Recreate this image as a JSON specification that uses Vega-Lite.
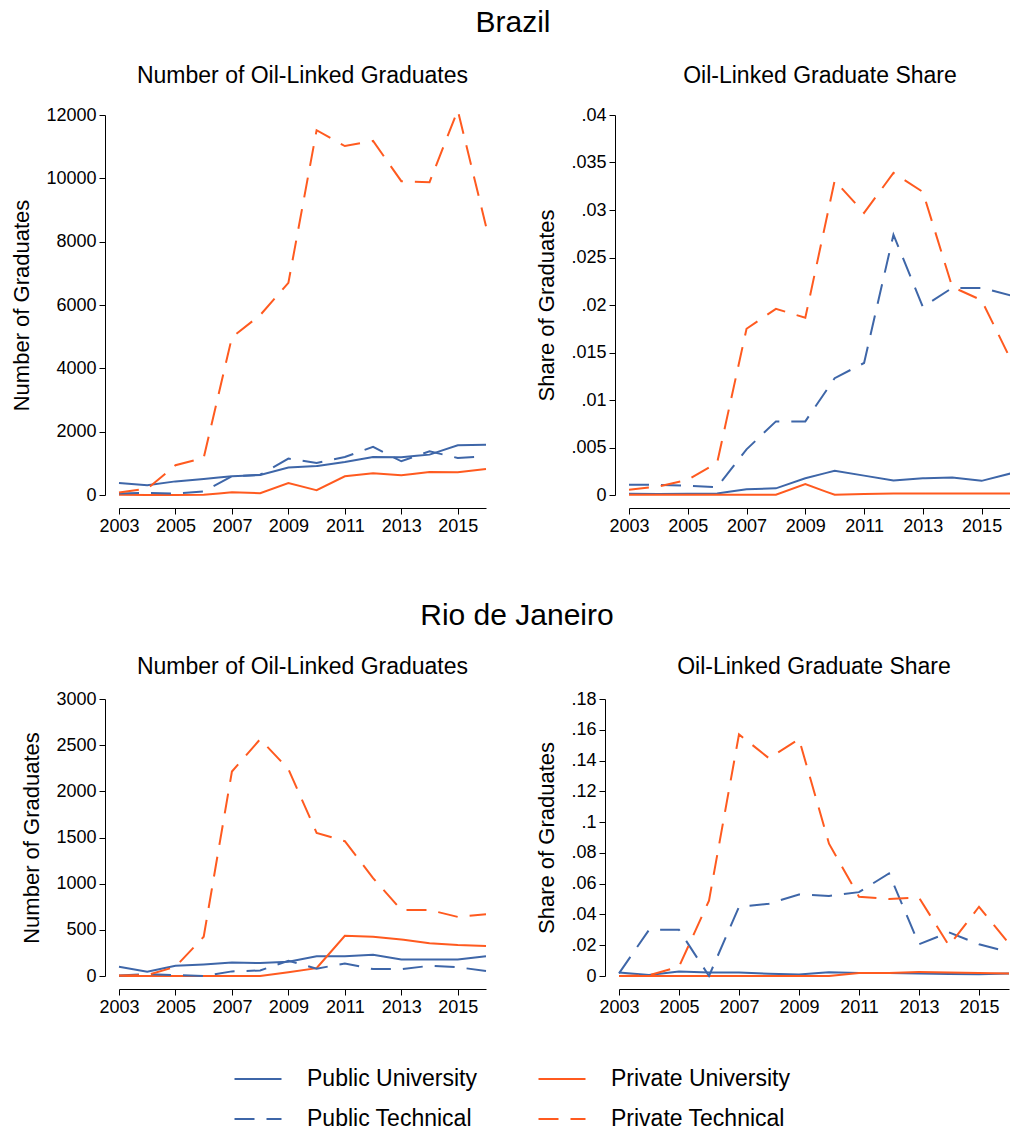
{
  "$schema": "https://vega.github.io/schema/vega-lite/v6.json",
  "padding": {"left": 10, "top": 8, "right": 0, "bottom": 0},
  "background": "white",
  "datasets": {
    "bc": [
      {"year": 2003, "Public University": 380, "Public Technical": 50, "Private University": 10, "Private Technical": 80},
      {"year": 2004, "Public University": 305, "Public Technical": 65, "Private University": 0, "Private Technical": 200},
      {"year": 2005, "Public University": 430, "Public Technical": 45, "Private University": 0, "Private Technical": 940},
      {"year": 2006, "Public University": 505, "Public Technical": 115, "Private University": 10, "Private Technical": 1170},
      {"year": 2007, "Public University": 590, "Public Technical": 590, "Private University": 85, "Private Technical": 4980},
      {"year": 2008, "Public University": 630, "Public Technical": 640, "Private University": 55, "Private Technical": 5680},
      {"year": 2009, "Public University": 865, "Public Technical": 1150, "Private University": 380, "Private Technical": 6700},
      {"year": 2010, "Public University": 915, "Public Technical": 1010, "Private University": 150, "Private Technical": 11520},
      {"year": 2011, "Public University": 1045, "Public Technical": 1200, "Private University": 590, "Private Technical": 11020},
      {"year": 2012, "Public University": 1200, "Public Technical": 1520, "Private University": 685, "Private Technical": 11180},
      {"year": 2013, "Public University": 1190, "Public Technical": 1065, "Private University": 620, "Private Technical": 9910},
      {"year": 2014, "Public University": 1275, "Public Technical": 1380, "Private University": 725, "Private Technical": 9880},
      {"year": 2015, "Public University": 1570, "Public Technical": 1170, "Private University": 715, "Private Technical": 12150},
      {"year": 2016, "Public University": 1590, "Public Technical": 1220, "Private University": 820, "Private Technical": 8490}
    ],
    "bs": [
      {"year": 2003, "Public University": 0.00014, "Public Technical": 0.00107, "Private University": 0.00002, "Private Technical": 0.00055},
      {"year": 2004, "Public University": 0.0001, "Public Technical": 0.00107, "Private University": 0.00002, "Private Technical": 0.0009},
      {"year": 2005, "Public University": 0.00014, "Public Technical": 0.00097, "Private University": 0.00002, "Private Technical": 0.0016},
      {"year": 2006, "Public University": 0.00017, "Public Technical": 0.00083, "Private University": 0.00002, "Private Technical": 0.0034},
      {"year": 2007, "Public University": 0.0006, "Public Technical": 0.0048, "Private University": 0.00002, "Private Technical": 0.0175},
      {"year": 2008, "Public University": 0.0007, "Public Technical": 0.00775, "Private University": 0.00002, "Private Technical": 0.0196},
      {"year": 2009, "Public University": 0.00176, "Public Technical": 0.00775, "Private University": 0.00114, "Private Technical": 0.01865},
      {"year": 2010, "Public University": 0.00256, "Public Technical": 0.0123, "Private University": 0.00002, "Private Technical": 0.0331},
      {"year": 2011, "Public University": 0.00204, "Public Technical": 0.0139, "Private University": 0.0001, "Private Technical": 0.0297},
      {"year": 2012, "Public University": 0.00152, "Public Technical": 0.0274, "Private University": 0.00017, "Private Technical": 0.0339},
      {"year": 2013, "Public University": 0.00176, "Public Technical": 0.0198, "Private University": 0.00017, "Private Technical": 0.0319},
      {"year": 2014, "Public University": 0.00183, "Public Technical": 0.0218, "Private University": 0.00015, "Private Technical": 0.0219},
      {"year": 2015, "Public University": 0.00149, "Public Technical": 0.0218, "Private University": 0.00015, "Private Technical": 0.0205},
      {"year": 2016, "Public University": 0.00228, "Public Technical": 0.021, "Private University": 0.00015, "Private Technical": 0.0142}
    ],
    "rc": [
      {"year": 2003, "Public University": 100, "Public Technical": 5, "Private University": 0, "Private Technical": 5},
      {"year": 2004, "Public University": 47, "Public Technical": 20, "Private University": 0, "Private Technical": 10},
      {"year": 2005, "Public University": 110, "Public Technical": 10, "Private University": 0, "Private Technical": 100},
      {"year": 2006, "Public University": 125, "Public Technical": 0, "Private University": 0, "Private Technical": 425},
      {"year": 2007, "Public University": 145, "Public Technical": 50, "Private University": 0, "Private Technical": 2215},
      {"year": 2008, "Public University": 140, "Public Technical": 60, "Private University": 0, "Private Technical": 2565},
      {"year": 2009, "Public University": 155, "Public Technical": 165, "Private University": 40, "Private Technical": 2240},
      {"year": 2010, "Public University": 215, "Public Technical": 80, "Private University": 85, "Private Technical": 1550},
      {"year": 2011, "Public University": 215, "Public Technical": 135, "Private University": 435, "Private Technical": 1460},
      {"year": 2012, "Public University": 230, "Public Technical": 75, "Private University": 425, "Private Technical": 1060},
      {"year": 2013, "Public University": 180, "Public Technical": 75, "Private University": 395, "Private Technical": 715},
      {"year": 2014, "Public University": 180, "Public Technical": 110, "Private University": 355, "Private Technical": 715},
      {"year": 2015, "Public University": 180, "Public Technical": 95, "Private University": 335, "Private Technical": 640},
      {"year": 2016, "Public University": 215, "Public Technical": 55, "Private University": 325, "Private Technical": 670}
    ],
    "rs": [
      {"year": 2003, "Public University": 0.0022, "Public Technical": 0.0017, "Private University": 0, "Private Technical": 0},
      {"year": 2004, "Public University": 0.0007, "Public Technical": 0.030, "Private University": 0, "Private Technical": 0.0005},
      {"year": 2005, "Public University": 0.003, "Public Technical": 0.030, "Private University": 0, "Private Technical": 0.006},
      {"year": 2006, "Public University": 0.0022, "Public Technical": 0.0, "Private University": 0, "Private Technical": 0.049},
      {"year": 2007, "Public University": 0.0022, "Public Technical": 0.045, "Private University": 0, "Private Technical": 0.157},
      {"year": 2008, "Public University": 0.0015, "Public Technical": 0.047, "Private University": 0, "Private Technical": 0.1415},
      {"year": 2009, "Public University": 0.0009, "Public Technical": 0.053, "Private University": 0, "Private Technical": 0.154},
      {"year": 2010, "Public University": 0.0024, "Public Technical": 0.052, "Private University": 0, "Private Technical": 0.086},
      {"year": 2011, "Public University": 0.002, "Public Technical": 0.0545, "Private University": 0.002, "Private Technical": 0.0515},
      {"year": 2012, "Public University": 0.002, "Public Technical": 0.0667, "Private University": 0.002, "Private Technical": 0.050},
      {"year": 2013, "Public University": 0.0017, "Public Technical": 0.0206, "Private University": 0.0026, "Private Technical": 0.051},
      {"year": 2014, "Public University": 0.0013, "Public Technical": 0.0284, "Private University": 0.0022, "Private Technical": 0.0197},
      {"year": 2015, "Public University": 0.0011, "Public Technical": 0.0206, "Private University": 0.002, "Private Technical": 0.045},
      {"year": 2016, "Public University": 0.0017, "Public Technical": 0.0156, "Private University": 0.0017, "Private Technical": 0.021}
    ]
  },
  "columns": 1,
  "align": "none",
  "concat": [
    {
      "title": {"text": "Brazil", "fontSize": 30, "anchor": "middle", "offset": 27},
      "spacing": 45,
      "hconcat": [
        {
          "width": 367, "height": 380,
          "title": {"text": "Number of Oil-Linked Graduates", "offset": 18},
          "data": {"name": "bc"},
          "transform": [{"fold": ["Public University", "Private University", "Public Technical", "Private Technical"], "as": ["type", "value"]}],
          "mark": {"type": "line", "strokeWidth": 2},
          "encoding": {
            "x": {"field": "year", "type": "quantitative", "scale": {"domain": [2003, 2016], "nice": false, "zero": false}, "axis": {"title": null, "values": [2003, 2005, 2007, 2009, 2011, 2013, 2015], "format": "d"}},
            "y": {"field": "value", "type": "quantitative", "scale": {"domain": [0, 12000], "nice": false}, "axis": {"title": "Number of Graduates", "values": [0, 2000, 4000, 6000, 8000, 10000, 12000], "format": "d"}},
            "color": {"field": "type", "type": "nominal", "scale": {"domain": ["Public University", "Private University", "Public Technical", "Private Technical"], "range": ["#3e66a8", "#ff5a1f", "#3e66a8", "#ff5a1f"]}, "legend": {"title": null, "orient": "none", "direction": "horizontal", "legendX": 114, "legendY": 939, "columns": 2, "symbolType": "stroke", "symbolSize": 2209, "symbolStrokeWidth": 2.2, "labelFontSize": 23, "labelOffset": 24, "columnPadding": 57, "rowPadding": 3, "labelColor": "#000", "labelLimit": 400}},
            "strokeDash": {"field": "type", "type": "nominal", "scale": {"domain": ["Public University", "Private University", "Public Technical", "Private Technical"], "range": [[100, 0], [100, 0], [20, 12], [20, 12]]}, "legend": {"title": null, "orient": "none", "direction": "horizontal", "legendX": 114, "legendY": 939, "columns": 2, "symbolType": "stroke", "symbolSize": 2209, "symbolStrokeWidth": 2.2, "labelFontSize": 23, "labelOffset": 24, "columnPadding": 57, "rowPadding": 3, "labelColor": "#000", "labelLimit": 400}}
          }
        },
        {
          "width": 382, "height": 380,
          "title": {"text": "Oil-Linked Graduate Share", "offset": 18},
          "data": {"name": "bs"},
          "transform": [{"fold": ["Public University", "Private University", "Public Technical", "Private Technical"], "as": ["type", "value"]}],
          "mark": {"type": "line", "strokeWidth": 2},
          "encoding": {
            "x": {"field": "year", "type": "quantitative", "scale": {"domain": [2003, 2016], "nice": false, "zero": false}, "axis": {"title": null, "values": [2003, 2005, 2007, 2009, 2011, 2013, 2015], "format": "d"}},
            "y": {"field": "value", "type": "quantitative", "scale": {"domain": [0, 0.04], "nice": false}, "axis": {"title": "Share of Graduates", "values": [0, 0.005, 0.01, 0.015, 0.02, 0.025, 0.03, 0.035, 0.04], "labelExpr": "replace(format(datum.value, '.3~f'), '0.', '.')"}},
            "color": {"field": "type", "type": "nominal", "scale": {"domain": ["Public University", "Private University", "Public Technical", "Private Technical"], "range": ["#3e66a8", "#ff5a1f", "#3e66a8", "#ff5a1f"]}, "legend": {"title": null}},
            "strokeDash": {"field": "type", "type": "nominal", "scale": {"domain": ["Public University", "Private University", "Public Technical", "Private Technical"], "range": [[100, 0], [100, 0], [20, 12], [20, 12]]}, "legend": {"title": null}}
          }
        }
      ]
    },
    {
      "title": {"text": "Rio de Janeiro", "fontSize": 30, "anchor": "middle", "offset": 25},
      "spacing": 45,
      "hconcat": [
        {
          "width": 367, "height": 277,
          "title": {"text": "Number of Oil-Linked Graduates", "offset": 11},
          "data": {"name": "rc"},
          "transform": [{"fold": ["Public University", "Private University", "Public Technical", "Private Technical"], "as": ["type", "value"]}],
          "mark": {"type": "line", "strokeWidth": 2},
          "encoding": {
            "x": {"field": "year", "type": "quantitative", "scale": {"domain": [2003, 2016], "nice": false, "zero": false}, "axis": {"title": null, "values": [2003, 2005, 2007, 2009, 2011, 2013, 2015], "format": "d"}},
            "y": {"field": "value", "type": "quantitative", "scale": {"domain": [0, 3000], "nice": false}, "axis": {"title": "Number of Graduates", "values": [0, 500, 1000, 1500, 2000, 2500, 3000], "format": "d"}},
            "color": {"field": "type", "type": "nominal", "scale": {"domain": ["Public University", "Private University", "Public Technical", "Private Technical"], "range": ["#3e66a8", "#ff5a1f", "#3e66a8", "#ff5a1f"]}, "legend": {"title": null}},
            "strokeDash": {"field": "type", "type": "nominal", "scale": {"domain": ["Public University", "Private University", "Public Technical", "Private Technical"], "range": [[100, 0], [100, 0], [20, 12], [20, 12]]}, "legend": {"title": null}}
          }
        },
        {
          "width": 390, "height": 277,
          "title": {"text": "Oil-Linked Graduate Share", "offset": 11},
          "data": {"name": "rs"},
          "transform": [{"fold": ["Public University", "Private University", "Public Technical", "Private Technical"], "as": ["type", "value"]}],
          "mark": {"type": "line", "strokeWidth": 2},
          "encoding": {
            "x": {"field": "year", "type": "quantitative", "scale": {"domain": [2003, 2016], "nice": false, "zero": false}, "axis": {"title": null, "values": [2003, 2005, 2007, 2009, 2011, 2013, 2015], "format": "d"}},
            "y": {"field": "value", "type": "quantitative", "scale": {"domain": [0, 0.18], "nice": false}, "axis": {"title": "Share of Graduates", "values": [0, 0.02, 0.04, 0.06, 0.08, 0.1, 0.12, 0.14, 0.16, 0.18], "labelExpr": "replace(format(datum.value, '.3~f'), '0.', '.')"}},
            "color": {"field": "type", "type": "nominal", "scale": {"domain": ["Public University", "Private University", "Public Technical", "Private Technical"], "range": ["#3e66a8", "#ff5a1f", "#3e66a8", "#ff5a1f"]}, "legend": {"title": null}},
            "strokeDash": {"field": "type", "type": "nominal", "scale": {"domain": ["Public University", "Private University", "Public Technical", "Private Technical"], "range": [[100, 0], [100, 0], [20, 12], [20, 12]]}, "legend": {"title": null}}
          }
        }
      ]
    }
  ],
  "spacing": 66,
  "resolve": {"scale": {"x": "independent", "y": "independent"}},
  "config": {
    "font": "Liberation Sans",
    "view": {"stroke": null},
    "title": {"fontSize": 23, "fontWeight": "normal", "color": "#000", "anchor": "middle"},
    "axis": {"grid": false, "domainColor": "#000", "tickColor": "#000", "labelColor": "#000", "titleColor": "#000", "labelFontSize": 18, "titleFontSize": 22, "titleFontWeight": "normal", "tickSize": 6, "labelOverlap": false, "labelFlush": false},
    "axisY": {"offset": 14, "titlePadding": 12, "labelPadding": 3},
    "axisX": {"offset": 13, "labelPadding": 3},
    "legend": {"labelFontSize": 23}
  }
}
